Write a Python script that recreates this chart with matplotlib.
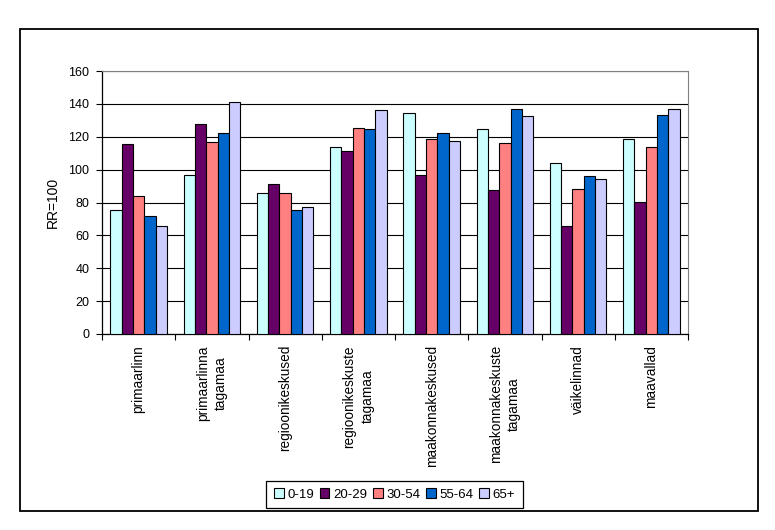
import numpy as np
import matplotlib
matplotlib.use("Agg")
import matplotlib.pyplot as plt
from matplotlib.patches import Rectangle

plt.rcParams['font.family'] = ['Liberation Sans', 'DejaVu Sans']

# categories (area types) and age groups
categories = ["primaarlinn", "primaarlinna\ntagamaa", "regioonikeskused",
              "regioonikeskuste\ntagamaa", "maakonnakeskused",
              "maakonnakeskuste\ntagamaa", "väikelinnad", "maavallad"]
age_groups = ["0-19", "20-29", "30-54", "55-64", "65+"]

# RR=100 index values
v_0_19 = [75.5, 97, 86, 114, 134.5, 124.5, 104, 118.5]
v_20_29 = [115.5, 128, 91, 111.5, 97, 87.5, 65.5, 80.5]
v_30_54 = [84, 117, 85.5, 125.5, 118.5, 116.5, 88.5, 114]
v_55_64 = [72, 122, 75.5, 125, 122, 137, 96, 133]
v_65 = [65.5, 141, 77.5, 136.5, 117.5, 132.5, 94, 137]
series = [v_0_19, v_20_29, v_30_54, v_55_64, v_65]

colors = ["#CCFFFF", "#660066", "#FF8080", "#0066CC", "#CCCCFF"]

W, H = 775, 530
fig = plt.figure(figsize=(W / 100, H / 100), dpi=100)

# outer chart border
fig.patches.append(Rectangle((20 / W, 1 - 511 / H), 738 / W, 482 / H,
                             transform=fig.transFigure, fill=False,
                             edgecolor="black", linewidth=1.3))

ax = fig.add_axes([102 / W, 1 - 334 / H, (688 - 102) / W, (334 - 71) / H])

x = np.arange(len(categories))
bw = 1 / 6.5
for i, (vals, c, lab) in enumerate(zip(series, colors, age_groups)):
    ax.bar(x + (i - 2) * bw, vals, width=bw, color=c, edgecolor="black",
           linewidth=0.8, label=lab, zorder=3)

ax.set_xlim(-0.5, len(categories) - 0.5)
ax.set_ylim(0, 160)
ax.set_yticks(np.arange(0, 161, 20))
ax.yaxis.grid(True, color="black", linewidth=0.8)
ax.set_axisbelow(True)

ax.set_xticks(x)
ax.set_xticklabels(categories, rotation=90, ha="center", va="top",
                   multialignment="center", linespacing=1.4, fontsize=9.8)
ax.set_xticks(np.arange(-0.5, len(categories), 1), minor=True)
ax.tick_params(axis="x", which="major", length=0, pad=8)
ax.tick_params(axis="x", which="minor", length=4, width=0.8, direction="out")
ax.tick_params(axis="y", length=4, width=0.8, direction="out", pad=5, labelsize=9)

for s in ["top", "right"]:
    ax.spines[s].set_color("#808080")
for s in ["left", "bottom"]:
    ax.spines[s].set_color("black")
    ax.spines[s].set_linewidth(0.9)

ax.set_ylabel("RR=100", fontsize=10, va="center")
ax.yaxis.set_label_coords((53 - 102) / 586, 0.5)

leg = fig.legend(loc="center", bbox_to_anchor=(394.5 / W, 1 - 494.5 / H), ncol=5,
                 fontsize=9.5, fancybox=False, framealpha=1, edgecolor="black",
                 handlelength=0.75, handleheight=0.75, handletextpad=0.3,
                 columnspacing=0.4, borderpad=0.55, borderaxespad=0)
leg.get_frame().set_linewidth(0.9)

fig.savefig("out.png", dpi=100)
